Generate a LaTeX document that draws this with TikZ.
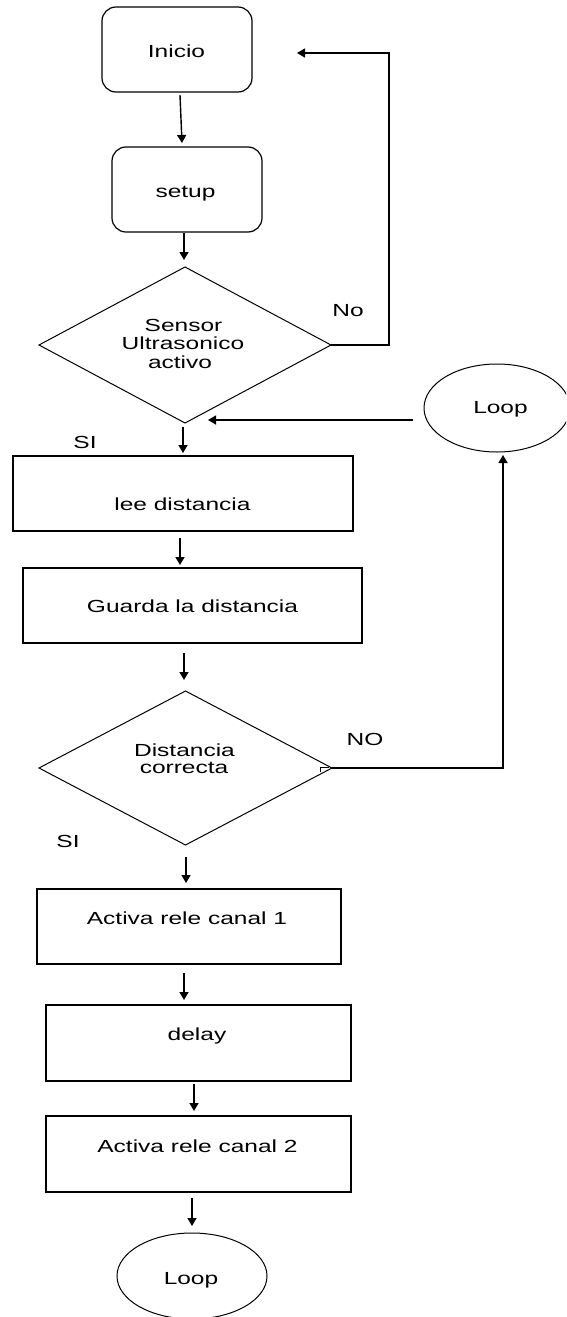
\documentclass[tikz,border=0pt]{standalone}
\usepackage{fontspec}
\setmainfont{Liberation Sans}[FakeStretch=1.4]
\usetikzlibrary{arrows.meta,shapes.geometric}

\begin{document}
\begin{tikzpicture}[x=1pt,y=-1pt,
  outline/.style={draw=black, inner sep=0pt, outer sep=0pt},
  rbox/.style={outline, line width=1.2pt, rectangle, rounded corners=14pt},
  sbox/.style={outline, line width=1.2pt, rectangle},
  dec/.style={outline, line width=1pt, diamond},
  term/.style={outline, line width=1pt, ellipse},
  txt/.style={font=\fontsize{17.5}{21}\selectfont, inner sep=0pt, anchor=base},
  flow/.style={line width=1.4pt, -{Triangle[length=8pt,width=9pt]}},
  link/.style={line width=1.4pt}]

\clip (0,0) rectangle (566,1317);
\fill[white] (0,0) rectangle (566,1317);

% process shapes
\node[rbox, minimum width=150pt, minimum height=85pt] (inicio) at (177,49.5) {};
\node[rbox, minimum width=150pt, minimum height=85pt] (setup) at (187,189.5) {};
\node[dec, minimum width=292pt, minimum height=156pt] (d1) at (185,345) {};
\node[sbox, minimum width=340pt, minimum height=75pt] (lee) at (183,493.5) {};
\node[sbox, minimum width=339pt, minimum height=75pt] (guarda) at (192.5,605.5) {};
\node[dec, minimum width=293pt, minimum height=154pt] (d2) at (185.5,768) {};
\node[sbox, minimum width=304pt, minimum height=75pt] (act1) at (189,926.5) {};
\node[sbox, minimum width=305pt, minimum height=76pt] (delay) at (198.5,1043) {};
\node[sbox, minimum width=305pt, minimum height=76pt] (act2) at (198.5,1154) {};
\node[term, minimum width=146pt, minimum height=88pt] (loopR) at (497,408) {};
\node[term, minimum width=150pt, minimum height=86pt] (loopB) at (192,1276) {};

% texts
\node[txt] (tInicio) at (176.5,57) {Inicio};
\node[txt] (tSetup) at (185.5,197) {setup};
\node[txt] (tSensor) at (183.5,331) {Sensor};
\node[txt] (tUltra) at (183,349.5) {Ultrasonico};
\node[txt] (tActivo) at (180,368.5) {activo};
\node[txt] (tLee) at (182.5,510) {lee distancia};
\node[txt] (tGuarda) at (192.5,612) {Guarda la distancia};
\node[txt] (tDist) at (184.5,756) {Distancia};
\node[txt] (tCorr) at (184,773) {correcta};
\node[txt] (tAct1) at (187,924) {Activa rele canal 1};
\node[txt] (tDelay) at (197,1040) {delay};
\node[txt] (tAct2) at (197.5,1152) {Activa rele canal 2};
\node[txt] (tLoopR) at (500.5,413) {Loop};
\node[txt] (tLoopB) at (191,1284) {Loop};
\node[txt] (lNo) at (348,316) {No};
\node[txt] (lSi1) at (85,448) {SI};
\node[txt] (lNO) at (365,745) {NO};
\node[txt] (lSi2) at (68,847) {SI};

% free ends of the return arrows
\coordinate (noin) at (297,53);
\coordinate (loopin) at (208,420);

% main flow
\draw[flow] ([xshift=3pt,yshift=-3pt]inicio.south) -- ([xshift=-5pt,yshift=4pt]setup.north);
\draw[flow] ([xshift=-3pt,yshift=-1pt]setup.south) -- ([xshift=-1pt,yshift=7pt]d1.north);
\draw[flow] ([xshift=-2pt,yshift=-4pt]d1.south) -- ([yshift=3pt]lee.north);
\draw[flow] ([xshift=-3pt,yshift=-7pt]lee.south) -- ([xshift=-12.5pt,yshift=3pt]guarda.north);
\draw[flow] ([xshift=-8.5pt,yshift=-10pt]guarda.south) -- ([xshift=-1.5pt,yshift=11pt]d2.north);
\draw[flow] ([xshift=0.5pt,yshift=-12pt]d2.south) -- ([xshift=-3pt,yshift=6pt]act1.north);
\draw[flow] ([xshift=-5pt,yshift=-9pt]act1.south) -- ([xshift=-14.5pt,yshift=5pt]delay.north);
\draw[flow] ([xshift=-4.5pt,yshift=-3pt]delay.south) -- ([xshift=-4.5pt,yshift=5pt]act2.north);
\draw[flow] ([xshift=-6.5pt,yshift=-6pt]act2.south) -- ([yshift=7pt]loopB.north);

% branches
\draw[flow] (d1.east) -- ++(58,0) |- (noin);
\draw[flow] ([xshift=-11pt,yshift=-12pt]loopR.west) -- (loopin);
\draw[flow] (d2.east) -| ([xshift=6pt,yshift=-3pt]loopR.south);
\draw[line width=0.8pt] ([xshift=-12pt,yshift=-4pt]d2.east) -- ([xshift=-12pt,yshift=0.5pt]d2.east) -- ([xshift=-3pt,yshift=0.5pt]d2.east);

\end{tikzpicture}
\end{document}
